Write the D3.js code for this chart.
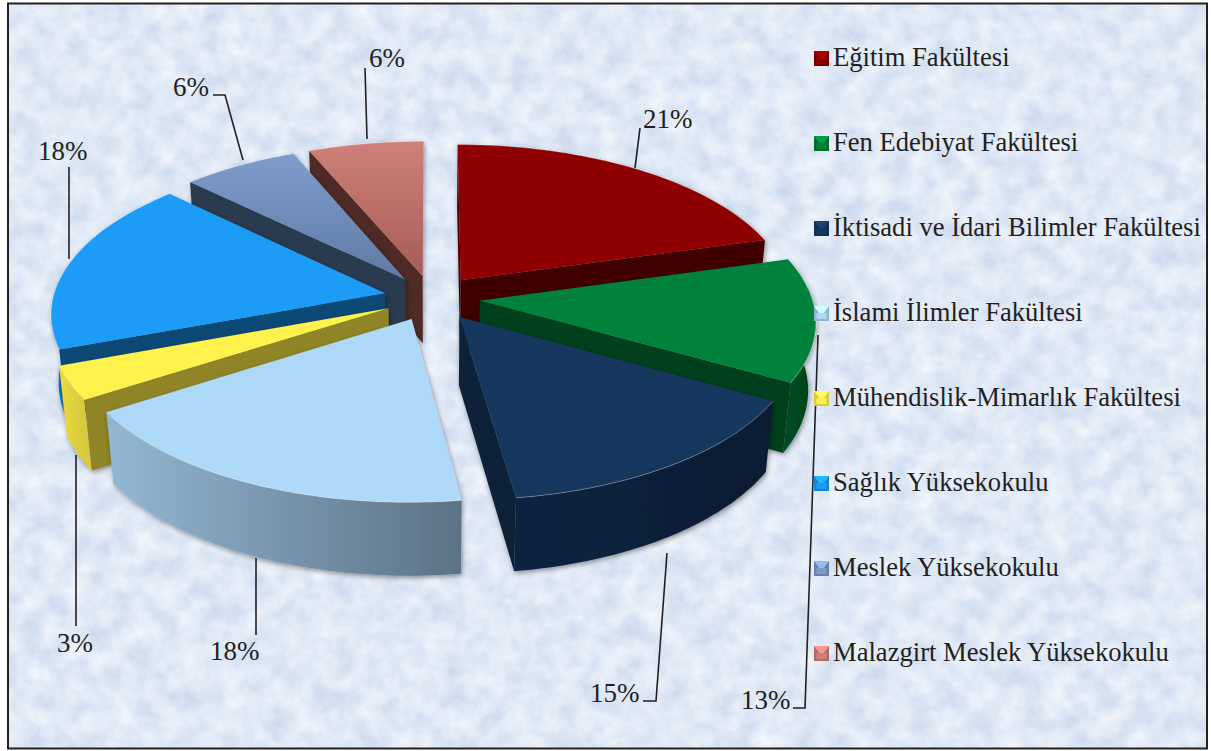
<!DOCTYPE html>
<html>
<head>
<meta charset="utf-8">
<script src="https://cdn.jsdelivr.net/npm/d3@7"></script>
<style>
  html, body { margin: 0; padding: 0; background: #fff; }
  svg { display: block; }
  text { font-family: "Liberation Serif", serif; fill: #231f20; }
</style>
</head>
<body>
<script>
// chart values (labels show them rounded)
const categories = [
  'Eğitim Fakültesi',
  'Fen Edebiyat Fakültesi',
  'İktisadi ve İdari Bilimler Fakültesi',
  'İslami İlimler Fakültesi',
  'Mühendislik-Mimarlık Fakültesi',
  'Sağlık Yüksekokulu',
  'Meslek Yüksekokulu',
  'Malazgirt Meslek Yüksekokulu'
]
const percents = [20.6, 12.6, 14.6, 18.1, 3.45, 17.9, 6.4, 6.35]

// colours per slice
const topLight = ['#8f0000', '#04823c', '#17375e', '#aed8f8', '#fff24e', '#1c9cf6', '#7f9bcb', '#cf8079']
const topDark = ['#8f0000', '#04823c', '#17375e', '#aed8f8', '#fff24e', '#1c9cf6', '#5f7ca6', '#a65d58']
const edgeColor = ['#3f0000', '#033f1c', '#0b2038', '#7f9fb8', '#8f8428', '#0b4874', '#2b3a50', '#4f2a26']
const wallLeft = ['#5a0000', '#034a20', '#0b2340', '#93b7d3', '#ecdb42', '#1d8ad8', '#4a6080', '#8a4c48']
const wallRight = ['#5a0000', '#033f1c', '#0a1c33', '#5c7285', '#d8c83a', '#1273b8', '#4a6080', '#8a4c48']

// leader lines and label spots, placed by hand in the original
const labelSpots = [[643, 128], [741, 709], [590, 702], [210, 660], [57, 652], [38, 160], [173, 96], [369, 67]]
const leaders = [
  [[635, 168], [640, 128]],
  [[793, 708], [805, 708], [818, 335]],
  [[643, 701], [656, 701], [667, 553]],
  [[256, 558], [256, 635]],
  [[76, 455], [76, 626]],
  [[69, 259], [69, 167]],
  [[213, 95], [225, 95], [243, 160]],
  [[367, 139], [365, 68]]
]

const width = 1211
const height = 751

// projection of the tilted pie
const cx = 432
const cy = 298
const R = 332
const K = 156
const H = 69
const persp = 0.12
const squeeze = 0.02
const explode = 0.145

const project = (x, y, z) => {
  const s = 1 / (1 - persp * y + squeeze * z)
  return [cx + R * x * s, cy + K * y * s + H * z * s]
}

const svg = d3.select('body').append('svg').attr('width', width).attr('height', height)
const defs = svg.append('defs')

// paper texture
const paper = defs.append('filter').attr('id', 'paper')
  .attr('x', 0).attr('y', 0).attr('width', '100%').attr('height', '100%')
  .attr('color-interpolation-filters', 'sRGB')
paper.append('feTurbulence').attr('type', 'fractalNoise').attr('baseFrequency', 0.045)
  .attr('numOctaves', 5).attr('seed', 7).attr('result', 'n')
paper.append('feColorMatrix').attr('in', 'n').attr('type', 'matrix')
  .attr('values', '0.2 0 0 0 0.775  0.15 0 0 0 0.835  0.08 0 0 0 0.92  0 0 0 0 1')

const shadow = defs.append('filter').attr('id', 'shadow')
  .attr('x', '-10%').attr('y', '-10%').attr('width', '120%').attr('height', '120%')
shadow.append('feDropShadow').attr('dx', 1).attr('dy', 2).attr('stdDeviation', 2.5)
  .attr('flood-color', '#000').attr('flood-opacity', 0.4)

svg.append('rect').attr('x', 8).attr('y', 3.5).attr('width', 1199).attr('height', 745)
  .attr('fill', '#dce9f7').attr('filter', 'url(#paper)')
svg.append('rect').attr('x', 8).attr('y', 3.5).attr('width', 1199).attr('height', 745)
  .attr('fill', 'none').attr('stroke', '#231f20').attr('stroke-width', 2)

const pie = d3.pie().sort(null).value(d => d)
const arcs = pie(percents)
const line = d3.line()

// back to front
const paintOrder = [7, 6, 0, 5, 1, 4, 2, 3]

const sliceLayer = svg.append('g')

paintOrder.forEach(i => {
  const a = arcs[i]
  const mid = (a.startAngle + a.endAngle) / 2
  const ox = explode * Math.sin(mid)
  const oy = -explode * Math.cos(mid)
  const steps = d3.scaleLinear().domain([0, 48]).range([a.startAngle, a.endAngle])
  const angles = d3.range(49).map(steps)
  const rim = (t, z) => project(ox + Math.sin(t), oy - Math.cos(t), z)
  const apex = z => project(ox, oy, z)

  const g = sliceLayer.append('g').attr('filter', 'url(#shadow)')

  // curved wall, only the part that faces the viewer
  const front = angles.filter(t => -Math.cos(t) > -0.08)
  if (front.length > 1) {
    const xs = front.map(t => rim(t, 0)[0])
    const gradId = 'wall' + i
    const grad = defs.append('linearGradient').attr('id', gradId)
      .attr('gradientUnits', 'userSpaceOnUse')
      .attr('x1', d3.min(xs)).attr('x2', d3.max(xs)).attr('y1', 0).attr('y2', 0)
    grad.append('stop').attr('offset', 0).attr('stop-color', wallLeft[i])
    grad.append('stop').attr('offset', 1).attr('stop-color', wallRight[i])
    const pts = front.map(t => rim(t, 0)).concat(front.slice().reverse().map(t => rim(t, 1)))
    g.append('path').attr('d', line(pts) + 'Z').attr('fill', 'url(#' + gradId + ')')
  }

  // flat cut faces
  const radial = t => [apex(0), rim(t, 0), rim(t, 1), apex(1)]
  if (rim(a.startAngle, 0)[0] < apex(0)[0] - 1) {
    g.append('path').attr('d', line(radial(a.startAngle)) + 'Z').attr('fill', edgeColor[i])
  }
  if (rim(a.endAngle, 0)[0] > apex(0)[0] + 1) {
    g.append('path').attr('d', line(radial(a.endAngle)) + 'Z').attr('fill', edgeColor[i])
  }

  // top face
  const topId = 'top' + i
  const topGrad = defs.append('linearGradient').attr('id', topId)
    .attr('x1', 0).attr('x2', 0).attr('y1', 0).attr('y2', 1)
  topGrad.append('stop').attr('offset', 0).attr('stop-color', topLight[i])
  topGrad.append('stop').attr('offset', 1).attr('stop-color', topDark[i])
  const topPts = [apex(0)].concat(angles.map(t => rim(t, 0)))
  g.append('path').attr('d', line(topPts) + 'Z').attr('fill', 'url(#' + topId + ')')
  g.append('path').attr('d', line(angles.map(t => rim(t, 0))))
    .attr('fill', 'none').attr('stroke', '#fff').attr('stroke-opacity', 0.3)
})

// leaders and percent labels
svg.append('g').selectAll('path').data(leaders).enter().append('path')
  .attr('d', d => line(d)).attr('fill', 'none').attr('stroke', '#231f20').attr('stroke-width', 1.6)

svg.append('g').selectAll('text').data(percents).enter().append('text')
  .attr('x', (d, i) => labelSpots[i][0])
  .attr('y', (d, i) => labelSpots[i][1])
  .attr('font-size', 27)
  .text(d => Math.round(d) + '%')

// legend
const legendY = d3.scalePoint().domain(categories).range([58, 653])
const legend = svg.append('g').selectAll('g').data(categories).enter().append('g')
  .attr('transform', d => `translate(814,${legendY(d) - 7})`)

legend.append('rect').attr('width', 15).attr('height', 15)
  .attr('fill', (d, i) => d3.color(topLight[i]).darker(0.5))
legend.append('path').attr('d', 'M0,0H15L9.5,7.5H5.5Z').attr('fill', (d, i) => d3.color(topLight[i]).brighter(0.5))
legend.append('rect').attr('x', 2.5).attr('y', 7).attr('width', 10).attr('height', 6)
  .attr('fill', (d, i) => topLight[i])

legend.append('text').attr('x', 19).attr('y', 15).attr('font-size', 26.6).text(d => d)
</script>
</body>
</html>
